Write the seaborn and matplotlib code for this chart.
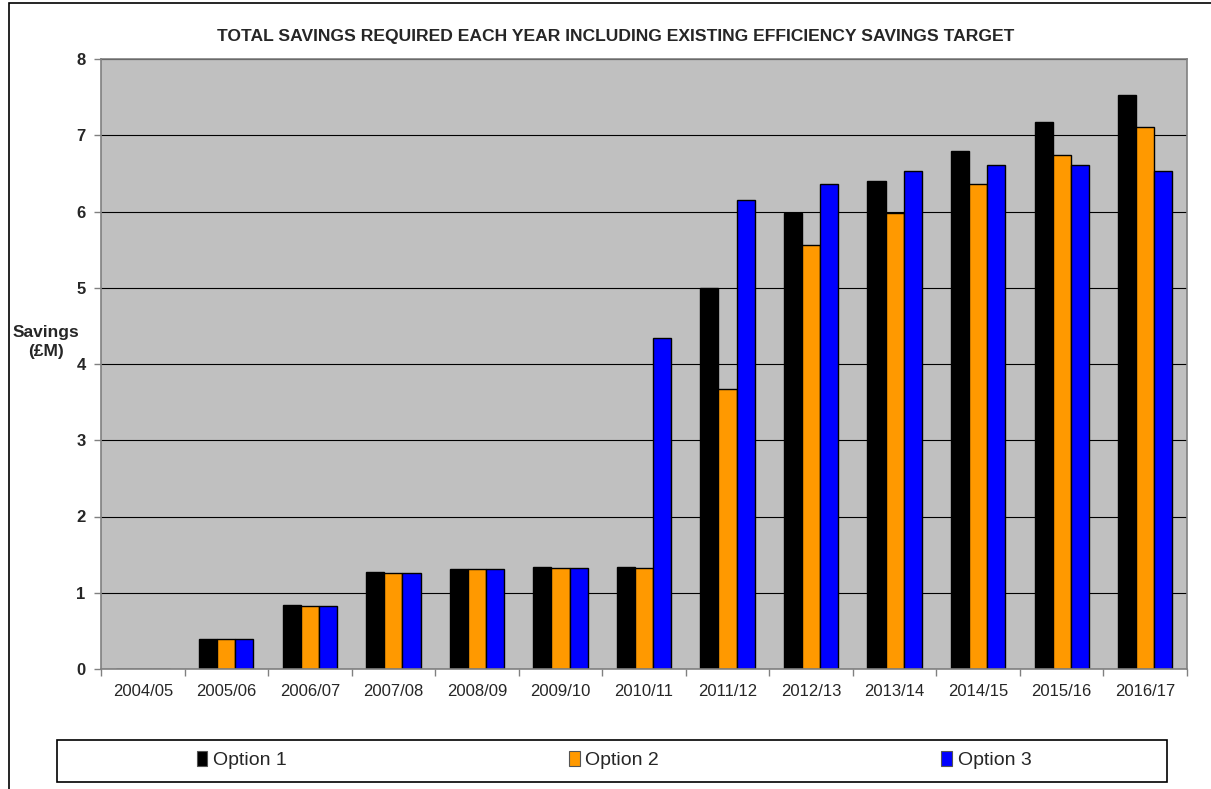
import matplotlib
matplotlib.use("Agg")
import matplotlib.pyplot as plt
import seaborn as sns
import pandas as pd
from matplotlib.patches import Rectangle, Patch
from matplotlib.ticker import FixedLocator

years = ["2004/05", "2005/06", "2006/07", "2007/08", "2008/09", "2009/10", "2010/11",
         "2011/12", "2012/13", "2013/14", "2014/15", "2015/16", "2016/17"]
option1 = [0.0, 0.40, 0.835, 1.27, 1.315, 1.335, 1.335, 5.00, 5.98, 6.40, 6.79, 7.17, 7.53]
option2 = [0.0, 0.40, 0.83, 1.26, 1.31, 1.33, 1.33, 3.67, 5.56, 5.98, 6.36, 6.74, 7.11]
option3 = [0.0, 0.40, 0.83, 1.26, 1.31, 1.33, 4.34, 6.15, 6.36, 6.53, 6.61, 6.61, 6.53]
series_names = ["Option 1", "Option 2", "Option 3"]
colors = ["#000000", "#FF9900", "#0000FF"]

rows = []
for name, vals in zip(series_names, [option1, option2, option3]):
    for y, v in zip(years, vals):
        rows.append({"Year": y, "Option": name, "Savings": v})
df = pd.DataFrame(rows)

sns.set_theme(style="white")
plt.rcParams["font.family"] = ["Liberation Sans", "DejaVu Sans"]

fig = plt.figure(figsize=(12.11, 7.89), dpi=100)
ax = fig.add_axes([101/1211, 1 - 669/789, (1187 - 101)/1211, (669 - 59)/789])
ax.set_facecolor("#C0C0C0")

sns.barplot(data=df, x="Year", y="Savings", hue="Option", order=years,
            hue_order=series_names, palette=colors, width=0.65,
            edgecolor="black", linewidth=1.0, saturation=1, ax=ax, legend=False)

ax.set_ylim(0, 8)
ax.set_xlim(-0.5, len(years) - 0.5)
ax.set_yticks(range(0, 9))
ax.yaxis.grid(True, color="black", linewidth=0.8)
ax.set_axisbelow(True)
for s in ax.spines.values():
    s.set_color("#808080")
    s.set_linewidth(1.2)

ax.set_xlabel("")
ax.set_ylabel("")
ax.tick_params(axis="y", which="major", length=5, width=1, color="#808080",
               labelsize=12, pad=6, left=True)
for lbl in ax.get_yticklabels():
    lbl.set_fontweight("bold")
ax.tick_params(axis="x", which="major", length=0, labelsize=12, pad=11)
ax.xaxis.set_minor_locator(FixedLocator([i - 0.5 for i in range(len(years) + 1)]))
ax.tick_params(axis="x", which="minor", length=5, width=1, color="#808080", bottom=True)

fig.text(616/1211, 1 - 36/789, "TOTAL SAVINGS REQUIRED EACH YEAR INCLUDING EXISTING EFFICIENCY SAVINGS TARGET",
         ha="center", va="center", fontsize=12.6, fontweight="bold")
fig.text(46/1211, 1 - 342/789, "Savings\n(£M)", ha="center", va="center",
         fontsize=12.5, fontweight="bold", linespacing=1.4)

# outer chart frame
fig.patches.append(Rectangle((9/1211, -0.05), 1.2, 1 - 3/789 + 0.05, transform=fig.transFigure,
                             fill=False, edgecolor="black", linewidth=1.2))
# legend frame
fig.patches.append(Rectangle((57/1211, 1 - 782/789), (1167 - 57)/1211, (782 - 740)/789,
                             transform=fig.transFigure, fill=False, edgecolor="black", linewidth=1.2))
handles = [Patch(facecolor=c, edgecolor="#555555", linewidth=0.8) for c in colors]
fig.legend(handles, series_names, loc="center", bbox_to_anchor=(614/1211, 1 - 760/789),
           ncol=3, frameon=False, fontsize=14, handlelength=0.55, handleheight=0.8,
           handletextpad=0.3, columnspacing=14.5)

fig.savefig("out.png", dpi=100)
